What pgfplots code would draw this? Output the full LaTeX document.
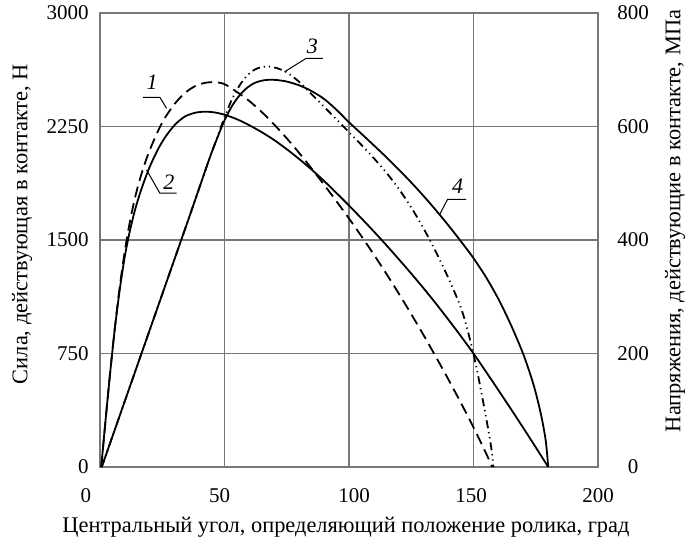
\documentclass[border=0pt]{standalone}
\usepackage{fontspec}
\setmainfont{Liberation Serif}
\usepackage{pgfplots}
\pgfplotsset{compat=1.18}
\definecolor{gridgray}{RGB}{120,120,120}
\begin{document}
\begin{tikzpicture}[x=1pt,y=1pt]
\path[use as bounding box] (-50,-37.5) rectangle (295.5,233.5);
\begin{axis}[
  at={(0,0)}, anchor=south west,
  width=249pt, height=227pt, scale only axis,
  xmin=0, xmax=200, ymin=0, ymax=3000,
  xtick={0,50,100,150,200}, ytick={0,750,1500,2250,3000},
  xticklabels={{\hspace*{-14pt}0},{\hspace*{-5pt}50},{100\hspace*{-5pt}},{\hspace*{-2.5pt}150},200},
  grid=major, major grid style={draw=gridgray, line width=0.65pt},
  axis line style={draw=gridgray, line width=0.65pt},
  major tick length=0pt,
  clip=false,
  /pgf/number format/assume math mode=true,
  /pgf/number format/1000 sep={},
  tick label style={font=\fontsize{10.5}{12}\selectfont},
  yticklabel style={xshift=-2.2pt},
  xticklabel style={yshift=-7pt},
  xlabel={Центральный угол, определяющий положение ролика, град},
  ylabel={Сила, действующая в контакте, Н},
  every axis x label/.style={at={(axis description cs:0.494,-0.132)}, anchor=center, font=\fontsize{11.2}{13}\selectfont},
  every axis y label/.style={at={(axis description cs:-0.1566,0.535)}, rotate=90, anchor=center, font=\fontsize{11.2}{13}\selectfont},
]
% curve 1 (dashed)
\addplot[black, line width=0.9pt, smooth, dash pattern=on 5.5pt off 3pt] coordinates {
(0.5,0) (2,265) (4,610) (6,925) (8,1200) (10,1430) (12,1620) (14,1775) (16,1900) (18,2005) (20,2095) (23,2210) (26,2305) (30,2400) (34,2470) (38,2515) (42,2538) (46,2543) (50,2530) (55,2478) (60,2418) (65,2345) (70,2262) (75,2172) (80,2075) (85,1972) (90,1865) (95,1755) (100,1642) (105,1525) (110,1403) (115,1277) (120,1146) (125,1010) (130,870) (135,725) (140,576) (145,422) (150,262) (155,92) (157.5,0)
};
% curve 2 (solid)
\addplot[black, line width=0.9pt, smooth] coordinates {
(0.5,0) (2,270) (4,610) (6,920) (8,1180) (10,1395) (12,1560) (14,1695) (16,1805) (18,1900) (20,1985) (23,2090) (26,2175) (30,2260) (34,2315) (38,2340) (42,2348) (46,2343) (50,2328) (55,2298) (60,2258) (65,2212) (70,2160) (75,2100) (80,2035) (85,1965) (90,1890) (95,1810) (100,1728) (105,1643) (110,1556) (115,1466) (120,1373) (125,1278) (130,1180) (135,1078) (140,972) (145,863) (150,750) (155,630) (160,508) (165,384) (170,258) (175,130) (180,0)
};
% curve 3 (dash-dot-dot)
\addplot[black, line width=0.9pt, smooth, dash pattern=on 4pt off 2pt on 0.6pt off 2pt on 0.6pt off 2pt] coordinates {
(0.7,0) (5,202) (10,437) (15,672) (20,907) (25,1142) (30,1377) (35,1612) (40,1850) (44,2040) (47,2175) (50,2310) (53,2430) (56,2520) (59,2585) (62,2625) (65,2643) (68,2646) (71,2636) (75,2608) (80,2545) (85,2463) (90,2380) (95,2297) (100,2212) (105,2128) (110,2040) (115,1945) (120,1838) (125,1715) (130,1575) (135,1418) (140,1245) (145,1050) (148,880) (151,672) (154,420) (156,240) (157.3,108) (158,0)
};
% curve 4 (solid)
\addplot[black, line width=0.9pt, smooth] coordinates {
(0.7,0) (5,202) (10,437) (15,672) (20,907) (25,1142) (30,1377) (35,1612) (40,1850) (44,2040) (47,2170) (50,2290) (53,2385) (56,2455) (59,2505) (62,2537) (65,2553) (68,2559) (71,2557) (75,2547) (80,2522) (85,2484) (90,2432) (95,2360) (100,2278) (105,2202) (110,2125) (115,2047) (120,1965) (125,1880) (130,1790) (135,1695) (140,1595) (145,1490) (150,1380) (155,1255) (160,1110) (165,940) (170,745) (174,550) (177,355) (179,175) (180,0)
};
% leaders and curve numbers
\draw[black, line width=0.5pt] (axis cs:17.35,2443) -- (axis cs:24.05,2443) -- (axis cs:26.73,2370);
\node[font=\fontsize{11}{12}\selectfont\itshape] at (axis cs:20.96,2545) {1};
\draw[black, line width=0.5pt] (axis cs:18.72,1963) -- (axis cs:24.05,1809) -- (axis cs:30.74,1809);
\node[font=\fontsize{11}{12}\selectfont\itshape] at (axis cs:27.66,1885) {2};
\draw[black, line width=0.5pt] (axis cs:74.15,2612) -- (axis cs:82.85,2701) -- (axis cs:89.5,2701);
\node[font=\fontsize{11}{12}\selectfont\itshape] at (axis cs:85.25,2777) {3};
\draw[black, line width=0.5pt] (axis cs:136.3,1665) -- (axis cs:139.6,1769) -- (axis cs:147,1769);
\node[font=\fontsize{11}{12}\selectfont\itshape] at (axis cs:143.6,1858) {4};
\end{axis}
\begin{axis}[
  at={(0,0)}, anchor=south west,
  width=249pt, height=227pt, scale only axis,
  xmin=0, xmax=200, ymin=0, ymax=800,
  ytick={0,200,400,600,800},
  axis x line=none, axis y line*=right,
  axis line style={draw=none},
  major tick length=0pt,
  /pgf/number format/assume math mode=true,
  tick label style={font=\fontsize{10.5}{12}\selectfont},
  yticklabel style={anchor=center, xshift=17.5pt},
  ylabel={Напряжения, действующие в контакте, МПа},
  every axis y label/.style={at={(axis description cs:1.1546,0.542)}, rotate=90, anchor=center, font=\fontsize{11.2}{13}\selectfont},
]
\end{axis}
\end{tikzpicture}
\end{document}
